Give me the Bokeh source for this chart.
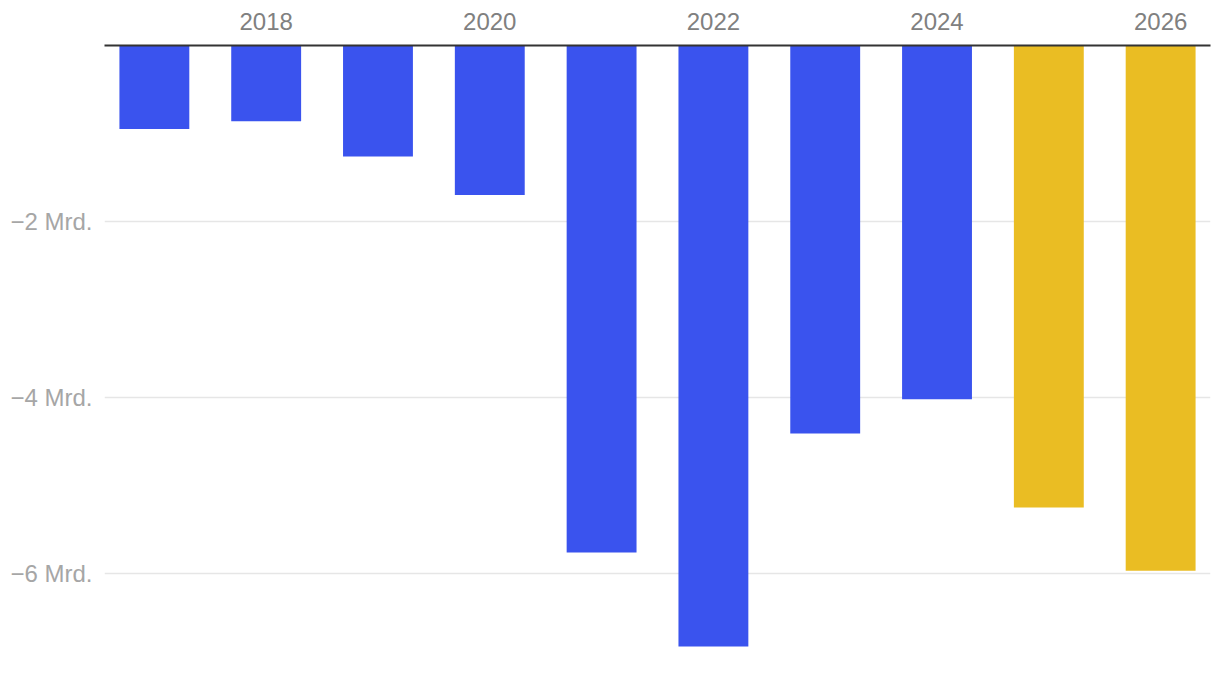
from bokeh.plotting import figure
from bokeh.models import FixedTicker, Range1d
from bokeh.embed import file_html
from bokeh.resources import INLINE

years = [2017, 2018, 2019, 2020, 2021, 2022, 2023, 2024, 2025, 2026]
values = [-0.95, -0.86, -1.26, -1.70, -5.76, -6.83, -4.41, -4.02, -5.25, -5.97]
forecast_from = 2025
x_ticks = [2018, 2020, 2022, 2024, 2026]
x_tick_labels = ["2018", "2020", "2022", "2024", "2026"]
y_ticks = [-6, -4, -2]
y_tick_labels = ["\u22126 Mrd.", "\u22124 Mrd.", "\u22122 Mrd."]

BLUE = "#3a53ee"
YELLOW = "#eabd23"
colors = [YELLOW if y >= forecast_from else BLUE for y in years]

p = figure(width=1212, height=676, output_backend="svg", toolbar_location=None,
           x_axis_location="above",
           x_range=Range1d(2016.554, 2026.446), y_range=Range1d(-7.0, 0.0),
           min_border_left=104, min_border_right=2, min_border_top=45, min_border_bottom=15)
p.outline_line_color = None
p.background_fill_color = "white"
p.border_fill_color = "white"

p.vbar(x=years, top=0, bottom=values, width=0.625, fill_color=colors, line_color=None)

FONT = "Liberation Sans"
xa = p.xaxis[0]
xa.ticker = FixedTicker(ticks=x_ticks)
xa.major_label_overrides = {t: l for t, l in zip(x_ticks, x_tick_labels)}
xa.axis_line_color = "#333333"
xa.axis_line_width = 2
xa.major_tick_line_color = None
xa.minor_tick_line_color = None
xa.major_label_text_font = FONT
xa.major_label_text_font_size = "24px"
xa.major_label_text_color = "#808080"
xa.major_label_standoff = 10

ya = p.yaxis[0]
ya.ticker = FixedTicker(ticks=y_ticks)
ya.major_label_overrides = {t: l for t, l in zip(y_ticks, y_tick_labels)}
ya.axis_line_color = None
ya.major_tick_line_color = None
ya.minor_tick_line_color = None
ya.major_label_text_font = FONT
ya.major_label_text_font_size = "24px"
ya.major_label_text_color = "#a6a6a6"
ya.major_label_standoff = 6

p.xgrid.grid_line_color = None
p.ygrid.grid_line_color = "#e6e6e6"
p.ygrid.grid_line_width = 1.7

open("out.html", "w").write(file_html(p, INLINE))
